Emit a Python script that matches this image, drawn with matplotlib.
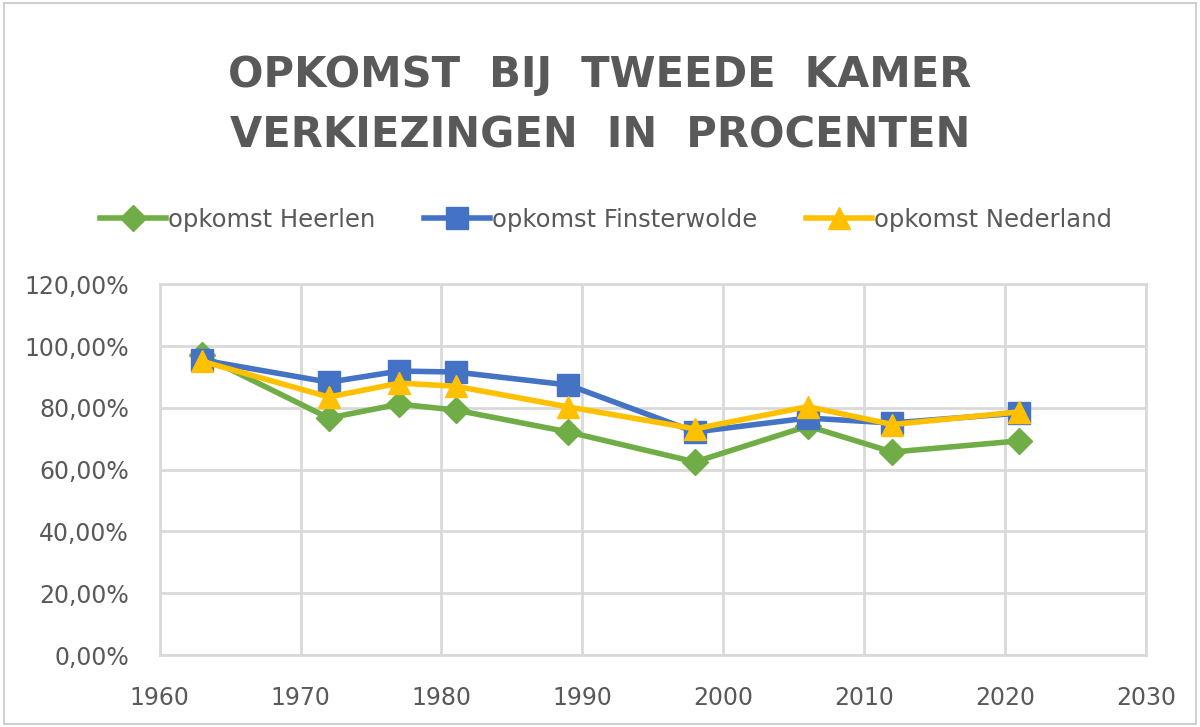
import matplotlib
matplotlib.use('Agg')
import matplotlib.pyplot as plt
import matplotlib.ticker as ticker
from matplotlib.patches import Rectangle

# jaartallen van de verkiezingen
jaren = [1963, 1972, 1977, 1981, 1989, 1998, 2006, 2012, 2021]
heerlen = [0.97, 0.767, 0.812, 0.793, 0.722, 0.625, 0.741, 0.657, 0.693]
finsterwolde = [0.955, 0.883, 0.919, 0.916, 0.874, 0.722, 0.767, 0.751, 0.783]
nederland = [0.951, 0.835, 0.880, 0.870, 0.803, 0.732, 0.804, 0.746, 0.787]

titel = 'OPKOMST  BIJ  TWEEDE  KAMER\nVERKIEZINGEN  IN  PROCENTEN'
grijs = '#595959'
lijn = '#d9d9d9'

fig = plt.figure(figsize=(12, 7.27), dpi=100)
ax = fig.add_axes([0.133, 0.099, 0.822, 0.51])

ax.plot(jaren, heerlen, color='#70AD47', lw=4, marker='D', ms=13,
        label='opkomst Heerlen', zorder=3)
ax.plot(jaren, finsterwolde, color='#4472C4', lw=4, marker='s', ms=16,
        label='opkomst Finsterwolde', zorder=4)
ax.plot(jaren, nederland, color='#FFC000', lw=4, marker='^', ms=16,
        label='opkomst Nederland', zorder=5)

ax.set_xlim(1960, 2030)
ax.set_ylim(0, 1.2)
ax.set_xticks(range(1960, 2031, 10))
ax.set_yticks([i * 0.2 for i in range(7)])
ax.yaxis.set_major_formatter(ticker.FuncFormatter(
    lambda v, p: f'{v*100:.2f}%'.replace('.', ',')))

ax.grid(True, color=lijn, lw=2)
ax.set_axisbelow(True)
for s in ax.spines.values():
    s.set_color(lijn)
    s.set_linewidth(2)
    s.set_zorder(0)
ax.tick_params(length=0, colors=grijs, labelsize=17)
ax.tick_params(axis='y', pad=22)
ax.tick_params(axis='x', pad=22, labelsize=17)

fig.text(0.5, 0.855, titel, ha='center', va='center', fontsize=30,
         fontweight='bold', color=grijs, linespacing=1.55)

fig.legend(loc='center', bbox_to_anchor=(0.505, 0.698), ncol=3, frameon=False,
           fontsize=17.5, handlelength=2.7, handletextpad=0.1,
           columnspacing=2.0, labelcolor=grijs)

fig.patches.append(Rectangle((0.003, 0.004), 0.994, 0.992, transform=fig.transFigure,
                             fill=False, ec='#d0d0d0', lw=1.5))

fig.savefig('out.png', dpi=100)
